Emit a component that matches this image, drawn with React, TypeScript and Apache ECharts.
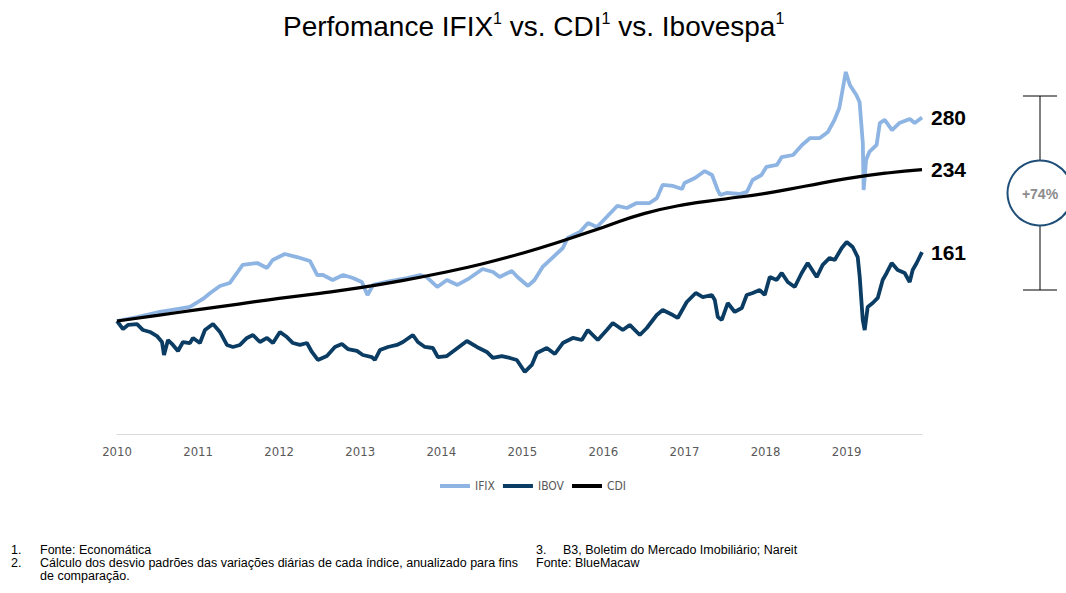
import React, { useEffect, useRef } from "react";
import * as echarts from "echarts";

const yearTicks = [2010, 2011, 2012, 2013, 2014, 2015, 2016, 2017, 2018, 2019];

const ifix: [number, number][] = [
  [2010.0, 100], [2010.25, 103.5], [2010.53, 108], [2010.74, 110.6], [2010.9, 112.4],
  [2011.06, 119.5], [2011.15, 124.8], [2011.27, 131], [2011.39, 133.6], [2011.48, 142.5],
  [2011.55, 149.6], [2011.73, 151.3], [2011.85, 146.9], [2011.92, 154], [2012.07, 159.3],
  [2012.22, 156.6], [2012.38, 153.1], [2012.47, 140.7], [2012.54, 140.7], [2012.66, 136.3],
  [2012.79, 140.7], [2012.91, 138], [2013.02, 134.5], [2013.09, 123], [2013.16, 131.9],
  [2013.37, 135.4], [2013.58, 138], [2013.74, 140.7], [2013.82, 138.9], [2013.95, 130.1],
  [2014.07, 136.3], [2014.2, 131.9], [2014.35, 138], [2014.51, 146], [2014.64, 143.4],
  [2014.72, 138.9], [2014.87, 144.2], [2014.94, 138.9], [2015.07, 131], [2015.15, 136.3],
  [2015.25, 147.8], [2015.38, 156.6], [2015.5, 164.6], [2015.56, 173.5], [2015.71, 178.8],
  [2015.81, 186.7], [2015.92, 183.2], [2016.04, 192], [2016.17, 201.8], [2016.29, 200],
  [2016.41, 204.4], [2016.57, 204.4], [2016.66, 208.8], [2016.73, 220.4], [2016.86, 219.5],
  [2016.97, 216.8], [2017.0, 222.1], [2017.13, 226.5], [2017.25, 232.7], [2017.34, 229.2],
  [2017.41, 215.9], [2017.44, 211.5], [2017.52, 213.3], [2017.68, 212.4], [2017.77, 214.2],
  [2017.84, 224.8], [2017.95, 229.2], [2018.01, 236.3], [2018.14, 238.1], [2018.2, 245.1],
  [2018.34, 246.9], [2018.45, 255.8], [2018.55, 261.9], [2018.67, 261.9], [2018.77, 267.3],
  [2018.85, 277.9], [2018.91, 288.5], [2018.95, 304.4], [2018.99, 320.4], [2019.04, 308.8],
  [2019.12, 300], [2019.16, 293.8], [2019.2, 257.5], [2019.21, 215.9], [2019.24, 242.5],
  [2019.28, 249.6], [2019.37, 255.8], [2019.41, 275.2], [2019.47, 277.9], [2019.56, 269],
  [2019.65, 275.2], [2019.78, 278.8], [2019.84, 275.2], [2019.93, 280],
];

const ibov: [number, number][] = [
  [2010.0, 100], [2010.074, 92.9], [2010.136, 96.5], [2010.247, 97.3], [2010.321, 92.0],
  [2010.407, 90.3], [2010.493, 86.7], [2010.555, 81.4], [2010.58, 69.9], [2010.629, 83.2],
  [2010.69, 78.8], [2010.752, 73.5], [2010.814, 81.4], [2010.9, 80.5], [2010.937, 85.0],
  [2011.023, 80.5], [2011.085, 92.0], [2011.184, 97.3], [2011.27, 90.3], [2011.356, 78.8],
  [2011.43, 77.0], [2011.517, 78.8], [2011.603, 85.0], [2011.677, 87.6], [2011.763, 81.4],
  [2011.85, 85.0], [2011.924, 80.5], [2012.01, 90.3], [2012.096, 85.8], [2012.17, 80.5],
  [2012.256, 78.8], [2012.343, 80.5], [2012.404, 72.6], [2012.478, 65.5], [2012.589, 69.0],
  [2012.688, 77.0], [2012.774, 79.6], [2012.848, 75.2], [2012.959, 73.5], [2013.033, 69.9],
  [2013.144, 68.1], [2013.181, 65.5], [2013.243, 74.3], [2013.342, 77.0], [2013.453, 78.8],
  [2013.527, 81.4], [2013.65, 87.6], [2013.711, 81.4], [2013.798, 77.0], [2013.896, 76.1],
  [2013.958, 68.1], [2014.069, 69.0], [2014.168, 74.3], [2014.316, 82.3], [2014.439, 77.0],
  [2014.562, 72.6], [2014.636, 67.3], [2014.747, 69.0], [2014.846, 67.3], [2014.932, 65.5],
  [2015.031, 54.9], [2015.117, 61.1], [2015.179, 71.7], [2015.302, 76.1], [2015.401, 70.8],
  [2015.499, 80.5], [2015.623, 85.0], [2015.734, 83.2], [2015.808, 92.0], [2015.931, 83.2],
  [2016.042, 92.0], [2016.116, 98.2], [2016.239, 92.0], [2016.325, 96.5], [2016.449, 87.6],
  [2016.535, 93.8], [2016.658, 105.3], [2016.732, 109.7], [2016.856, 105.3], [2016.917, 102.7],
  [2017.028, 116.8], [2017.139, 124.8], [2017.226, 121.2], [2017.337, 123.0], [2017.374, 118.6],
  [2017.411, 103.5], [2017.46, 100.9], [2017.534, 115.9], [2017.62, 108.0], [2017.707, 111.5],
  [2017.768, 123.0], [2017.842, 124.8], [2017.928, 127.4], [2017.99, 123.0], [2018.052, 138.9],
  [2018.138, 136.3], [2018.2, 142.5], [2018.274, 134.5], [2018.36, 130.1], [2018.446, 142.5],
  [2018.52, 151.3], [2018.631, 138.9], [2018.705, 149.6], [2018.791, 155.8], [2018.853, 154.0],
  [2018.94, 164.6], [2019.001, 169.9], [2019.075, 165.5], [2019.137, 156.6], [2019.162, 138.9],
  [2019.199, 100.9], [2019.223, 92.0], [2019.26, 112.4], [2019.322, 115.9], [2019.384, 120.4],
  [2019.445, 136.3], [2019.494, 142.5], [2019.556, 151.3], [2019.63, 145.1], [2019.716, 142.5],
  [2019.778, 134.5], [2019.815, 145.1], [2019.864, 151.3], [2019.93, 161],
];

const cdi: [number, number][] = [
  [2010.0, 100], [2010.5, 105], [2011.0, 110], [2011.5, 115], [2012.0, 120],
  [2012.5, 124.5], [2013.0, 129.5], [2013.5, 135.5], [2014.0, 142.5], [2014.5, 150.5],
  [2015.0, 160], [2015.5, 171], [2016.0, 183], [2016.5, 195], [2017.0, 203],
  [2017.5, 208], [2018.0, 213], [2018.5, 219.5], [2019.0, 226], [2019.5, 231], [2019.93, 234],
];

const seriesNames = ["IFIX", "IBOV", "CDI"];
const titleParts = ["Perfomance IFIX", " vs. CDI", " vs. Ibovespa"];
const supMark = "1";
const spreadLabel = "+74%";
const footnotes = [
  { n: "1.", t: "Fonte: Economática" },
  { n: "2.", t: "Cálculo dos desvio padrões das variações diárias de cada índice, anualizado para fins" },
  { n: "", t: "de comparação." },
];
const footnoteRight = [
  { n: "3.", t: "B3, Boletim do Mercado Imobiliário; Nareit" },
  { n: "", t: "Fonte: BlueMacaw" },
];

const ARIAL = "Liberation Sans, Arial, sans-serif";
const NARROW = "Liberation Sans Narrow, Arial Narrow, DejaVu Sans Condensed, sans-serif";

export default function App() {
  const ref = useRef<HTMLDivElement>(null);
  useEffect(() => {
    if (!ref.current) return;
    const chart = echarts.init(ref.current, undefined, { renderer: "svg" });
    const endLabel = {
      show: true,
      formatter: (p: any) => String(Math.round(p.value[1])),
      fontSize: 21,
      fontWeight: "bold" as const,
      color: "#000",
      fontFamily: ARIAL,
      distance: 9,
    };
    const FN = `12.5px ${ARIAL}`;
    const graphic: any[] = [
      { type: "line", shape: { x1: 1040, y1: 96, x2: 1040, y2: 290 }, style: { stroke: "#000", lineWidth: 1 } },
      { type: "line", shape: { x1: 1023, y1: 96, x2: 1057, y2: 96 }, style: { stroke: "#000", lineWidth: 1 } },
      { type: "line", shape: { x1: 1023, y1: 290, x2: 1057, y2: 290 }, style: { stroke: "#000", lineWidth: 1 } },
      { type: "circle", shape: { cx: 1040, cy: 193, r: 32.5 }, style: { fill: "#fff", stroke: "#1f4e79", lineWidth: 2 } },
      {
        type: "text", x: 1040, y: 194,
        style: { text: spreadLabel, fill: "#8c8c8c", font: `bold 14px ${ARIAL}`, align: "center", verticalAlign: "middle" },
      },
    ];
    footnotes.forEach((f, i) => {
      const y = 550 + i * 13;
      if (f.n) graphic.push({ type: "text", x: 11, y, style: { text: f.n, fill: "#000", font: FN, verticalAlign: "middle" } });
      graphic.push({ type: "text", x: 40, y, style: { text: f.t, fill: "#000", font: FN, verticalAlign: "middle" } });
    });
    footnoteRight.forEach((f, i) => {
      const y = 550 + i * 13;
      if (f.n) {
        graphic.push({ type: "text", x: 536, y, style: { text: f.n, fill: "#000", font: FN, verticalAlign: "middle" } });
        graphic.push({ type: "text", x: 563, y, style: { text: f.t, fill: "#000", font: FN, verticalAlign: "middle" } });
      } else {
        graphic.push({ type: "text", x: 536, y, style: { text: f.t, fill: "#000", font: FN, verticalAlign: "middle" } });
      }
    });

    chart.setOption({
      animation: false,
      backgroundColor: "#fff",
      title: {
        text: titleParts.map((p) => `{a|${p}}{s|${supMark}}`).join(""),
        left: 278,
        top: 1,
        textStyle: {
          fontSize: 28,
          fontWeight: "normal",
          color: "#000",
          fontFamily: ARIAL,
          rich: {
            a: { fontSize: 28, fontFamily: ARIAL, color: "#000", lineHeight: 34, verticalAlign: "bottom" },
            s: { fontSize: 16, fontFamily: ARIAL, color: "#000", lineHeight: 34, verticalAlign: "top", padding: [4, 0, 0, 0] },
          },
        },
      },
      legend: {
        data: seriesNames,
        left: "center",
        top: 475,
        icon: "rect",
        itemWidth: 30,
        itemHeight: 4,
        itemGap: 8,
        textStyle: { fontSize: 12, color: "#595959", fontFamily: NARROW },
      },
      grid: { left: 117, right: 144, top: 38.5, bottom: 159, containLabel: false },
      xAxis: {
        type: "value",
        min: yearTicks[0],
        max: 2019.93,
        interval: 1,
        axisLine: { show: true, lineStyle: { color: "#d9d9d9", width: 1 } },
        axisTick: { show: false },
        splitLine: { show: false },
        axisLabel: {
          margin: 11,
          color: "#595959",
          fontSize: 13,
          fontFamily: NARROW,
          showMaxLabel: false,
          formatter: (v: number) => {
            const r = Math.round(v);
            return Math.abs(v - r) < 1e-6 && yearTicks.includes(r) ? String(r) : "";
          },
        },
      },
      yAxis: {
        type: "value",
        min: 0,
        max: 350,
        show: false,
        splitLine: { show: false },
      },
      series: [
        {
          name: "IFIX", type: "line", data: ifix, showSymbol: false, symbol: "none",
          lineStyle: { color: "#8db4e2", width: 3.8 }, itemStyle: { color: "#8db4e2" }, endLabel,
        },
        {
          name: "IBOV", type: "line", data: ibov, showSymbol: false, symbol: "none",
          lineStyle: { color: "#0b3c63", width: 3.8 }, itemStyle: { color: "#0b3c63" }, endLabel,
        },
        {
          name: "CDI", type: "line", data: cdi, showSymbol: false, symbol: "none", smooth: true,
          lineStyle: { color: "#000", width: 3.2 }, itemStyle: { color: "#000" }, endLabel,
        },
      ],
      graphic,
    });
    return () => chart.dispose();
  }, []);
  return <div ref={ref} style={{ width: 1066, height: 593, position: "absolute", left: 0, top: 0 }} />;
}
